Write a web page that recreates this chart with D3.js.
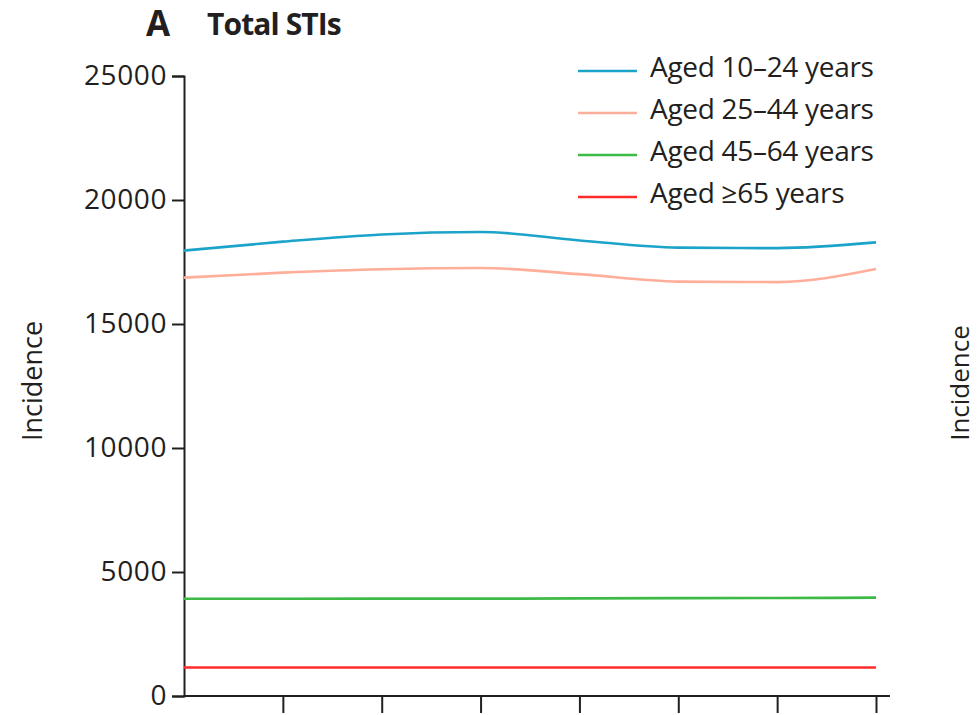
<!DOCTYPE html>
<html>
<head>
<meta charset="utf-8">
<script src="https://cdn.jsdelivr.net/npm/d3@7"></script>
<style>
  html, body { margin: 0; padding: 0; background: #fff; }
  svg { display: block; }
  text { font-family: "Open Sans", "Liberation Sans", sans-serif; fill: #231f20; }
</style>
</head>
<body>
<svg id="chart" width="978" height="715"></svg>
<script>
// Period index along the x axis (tick labels are not shown in this panel)
const periods = [0, 1, 2, 3, 4, 5, 6, 7];

// Age groups and their colours
const ageGroups = ["Aged 10–24 years", "Aged 25–44 years", "Aged 45–64 years", "Aged ≥65 years"];
const groupColors = ["#1ba3c9", "#ffae9a", "#3dba45", "#ff2b2b"];

// Incidence of total STIs per age group
const aged10to24 = [17960, 18320, 18610, 18710, 18370, 18080, 18060, 18290];
const aged25to44 = [16870, 17070, 17210, 17260, 17010, 16710, 16690, 17220];
const aged45to64 = [3920, 3920, 3925, 3925, 3935, 3945, 3950, 3965];
const aged65plus = [1150, 1150, 1150, 1150, 1150, 1150, 1150, 1150];

const yTicks = [0, 5000, 10000, 15000, 20000, 25000];
const xTicks = [1, 2, 3, 4, 5, 6, 7];

const seriesValues = [aged10to24, aged25to44, aged45to64, aged65plus];

const svg = d3.select("#chart");

const x = d3.scaleLinear().domain([0, 7]).range([184, 876]);
const y = d3.scaleLinear().domain([0, 25000]).range([696, 76]);

// Panel title
svg.append("text")
  .attr("x", 146).attr("y", 36)
  .attr("font-size", 35).attr("font-weight", 700)
  .text("A");
svg.append("text")
  .attr("x", 207).attr("y", 35)
  .attr("font-size", 30).attr("font-weight", 700)
  .attr("letter-spacing", -0.9)
  .text("Total STIs");

// Y axis
const yAxis = svg.append("g")
  .attr("transform", `translate(${x.range()[0]},0)`)
  .call(d3.axisLeft(y).tickValues(yTicks).tickSize(12).tickPadding(5)
        .tickFormat(d3.format("d")));
yAxis.select(".domain").attr("stroke", "#231f20").attr("stroke-width", 2);
yAxis.selectAll(".tick line").attr("stroke", "#231f20").attr("stroke-width", 2);
yAxis.selectAll(".tick text")
  .attr("font-size", 28).attr("fill", "#231f20")
  .attr("font-family", "\"Open Sans\", sans-serif")
  .attr("letter-spacing", 0.6);

// X axis (ticks only, no labels)
const xAxis = svg.append("g")
  .attr("transform", `translate(0,${y(0)})`)
  .call(d3.axisBottom(x).tickValues(xTicks).tickSize(17).tickSizeOuter(0).tickFormat(""));
xAxis.select(".domain").remove();
xAxis.selectAll(".tick line").attr("stroke", "#231f20").attr("stroke-width", 2);
xAxis.append("line")
  .attr("x1", x.range()[0]).attr("x2", x.range()[1] + 14)
  .attr("y1", 0).attr("y2", 0)
  .attr("stroke", "#231f20").attr("stroke-width", 2);

// Axis titles (the second belongs to the neighbouring panel)
svg.append("text")
  .attr("transform", "translate(42,381) rotate(-90)")
  .attr("text-anchor", "middle")
  .attr("font-size", 27)
  .text("Incidence");
svg.append("text")
  .attr("transform", "translate(969,383) rotate(-90)")
  .attr("text-anchor", "middle")
  .attr("font-size", 26)
  .text("Incidence");

// Lines
const line = d3.line()
  .x((d, i) => x(periods[i]))
  .y(d => y(d))
  .curve(d3.curveMonotoneX);

svg.append("g").selectAll("path")
  .data(seriesValues)
  .join("path")
  .attr("d", line)
  .attr("fill", "none")
  .attr("stroke", (d, i) => groupColors[i])
  .attr("stroke-width", 2.6);

// Legend
const legend = svg.append("g").attr("transform", "translate(578,71)");
const rows = legend.selectAll("g")
  .data(ageGroups)
  .join("g")
  .attr("transform", (d, i) => `translate(0,${i * 42})`);
rows.append("line")
  .attr("x1", 0).attr("x2", 59)
  .attr("y1", 0).attr("y2", 0)
  .attr("stroke", (d, i) => groupColors[i])
  .attr("stroke-width", 2.6);
rows.append("text")
  .attr("x", 72).attr("y", 6)
  .attr("font-size", 28)
  .attr("letter-spacing", -0.3)
  .text(d => d);
</script>
</body>
</html>
